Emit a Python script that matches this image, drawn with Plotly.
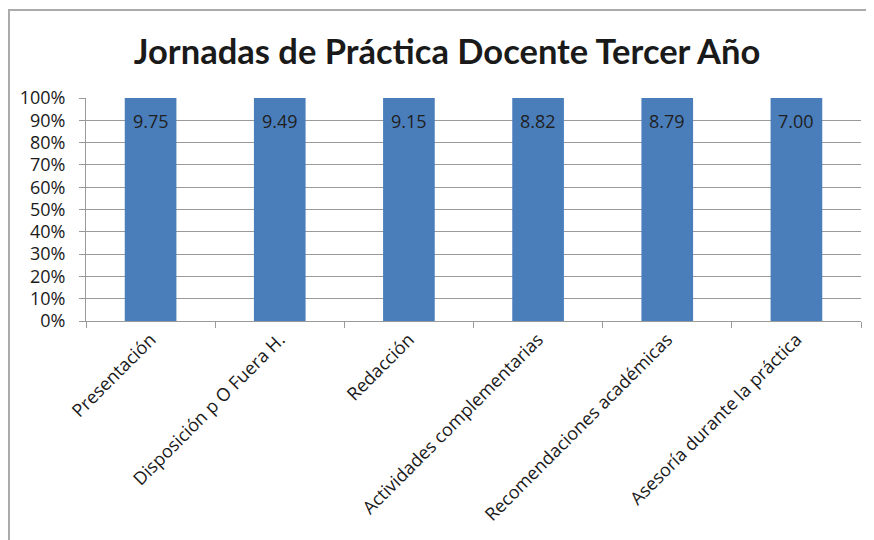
import plotly.graph_objects as go

categories = ["Presentación", "Disposición p O Fuera H.", "Redacción",
              "Actividades complementarias", "Recomendaciones académicas",
              "Asesoría durante la práctica"]
values = [9.75, 9.49, 9.15, 8.82, 8.79, 7.00]
y_ticks = list(range(0, 101, 10))

OFF = 8  # browser body margin
W, H = 874 - OFF, 540 - OFF
L, T = 86 - OFF, 98 - OFF
R = W - (861 - OFF)
B = H - (321 - OFF)
pw, ph = W - L - R, H - T - B

fig = go.Figure()
fig.add_trace(go.Bar(
    x=categories, y=values,
    marker=dict(color="#4A7EBB", line=dict(width=0)),
    hoverinfo="skip",
))

for c, v in zip(categories, values):
    fig.add_annotation(x=c, y=89.5, xref="x", yref="y", text=f"{v:.2f}",
                       showarrow=False, font=dict(family="Open Sans", size=18, color="#1f1f1f"))

def px_x(x):
    return (x - OFF - L) / pw

def px_y(y):
    return (H - B - (y - OFF)) / ph

fig.add_shape(type="rect", xref="paper", yref="paper",
              x0=px_x(OFF + 1), x1=px_x(884), y0=px_y(550), y1=px_y(10),
              line=dict(color="#ababab", width=2), fillcolor="rgba(0,0,0,0)", layer="below")

fig.update_layout(
    width=W, height=H,
    margin=dict(l=L, r=R, t=T, b=B, autoexpand=False),
    barnorm="percent",
    bargap=0.6,
    paper_bgcolor="white", plot_bgcolor="white",
    showlegend=False,
    title=dict(text="<b>Jornadas de Práctica Docente Tercer Año</b>",
               x=(447 - OFF) / W, xanchor="center", xref="container",
               y=1 - (52 - OFF) / H, yanchor="middle", yref="container",
               font=dict(family="Lato", size=34.5, color="#1a1a1a")),
    font=dict(family="Open Sans", color="#1a1a1a"),
)
fig.update_xaxes(
    showline=True, linecolor="#9a9a9a", linewidth=1,
    ticks="outside", ticklen=6, tickcolor="#9a9a9a", tickson="boundaries",
    tickangle=-45, tickfont=dict(family="Open Sans", size=18, color="#1a1a1a"),
    showgrid=False,
)
fig.update_yaxes(
    range=[0, 100], tickvals=y_ticks, ticktext=[f"{t}%" for t in y_ticks],
    showline=True, linecolor="#9a9a9a", linewidth=1,
    ticks="outside", ticklen=6, tickcolor="#9a9a9a",
    showgrid=True, gridcolor="#9a9a9a", gridwidth=1,
    tickfont=dict(family="Open Sans", size=18, color="#1a1a1a"),
    ticklabelstandoff=10,
    zeroline=False,
)

fig.write_html("out.html")
